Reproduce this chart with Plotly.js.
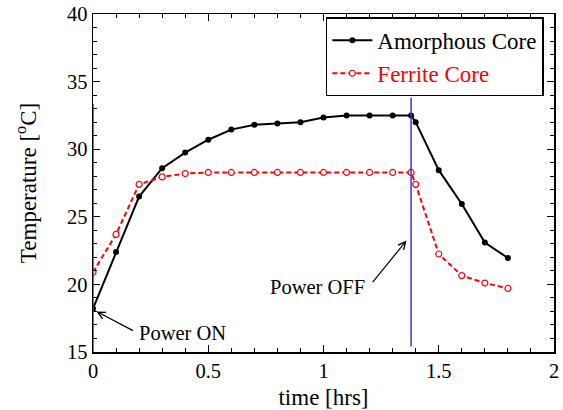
<!DOCTYPE html>
<html>
<head>
<meta charset="utf-8">
<script src="https://cdn.plot.ly/plotly-3.0.1.min.js"></script>
<style>html,body{margin:0;padding:0;background:#fff;}#chart{width:563px;height:410px;}</style>
</head>
<body>
<div id="chart"></div>
<script>
const timeHrs = [0, 0.1, 0.2, 0.3, 0.4, 0.5, 0.6, 0.7, 0.8, 0.9, 1.0, 1.1, 1.2, 1.3, 1.38, 1.4, 1.5, 1.6, 1.7, 1.8];
const amorphousTemp = [18.2, 22.4, 26.5, 28.6, 29.75, 30.7, 31.45, 31.8, 31.9, 32.0, 32.35, 32.5, 32.5, 32.5, 32.5, 32.0, 28.45, 25.95, 23.1, 21.95];
const ferriteTemp = [20.9, 23.7, 27.4, 27.95, 28.2, 28.28, 28.28, 28.28, 28.28, 28.28, 28.28, 28.28, 28.28, 28.28, 28.28, 27.4, 22.25, 20.65, 20.1, 19.7];
const seriesNames = ['Amorphous Core', 'Ferrite Core'];
const powerOnTime = 0;
const powerOffTime = 1.38;

const FONT = 'Liberation Serif, Times New Roman, serif';

const traces = [
  {
    x: timeHrs, y: amorphousTemp, name: '<span style="color:#000000;font-family:Liberation Serif,serif">' + seriesNames[0] + '</span>', type: 'scatter', mode: 'lines+markers',
    line: {color: '#000', width: 2},
    marker: {color: '#000', size: 6, symbol: 'circle'}
  },
  {
    x: timeHrs, y: ferriteTemp, name: '<span style="color:#ff0000;font-family:Liberation Serif,serif">' + seriesNames[1] + '</span>', type: 'scatter', mode: 'lines+markers',
    line: {color: '#ff0000', width: 2, dash: '5px,3px'},
    marker: {color: '#fff', size: 6, symbol: 'circle', line: {color: '#ff0000', width: 1.2}}
  }
];

const axisCommon = {
  showgrid: false, zeroline: false, showline: true, linecolor: '#000', linewidth: 1.5,
  mirror: 'ticks', ticks: 'inside', ticklen: 7, tickwidth: 1.2, tickcolor: '#000',
  tickfont: {family: FONT, size: 20.5, color: '#000'},
};

const layout = {
  width: 563, height: 410,
  margin: {l: 93, r: 9, t: 14, b: 58},
  paper_bgcolor: '#fff', plot_bgcolor: '#fff',
  font: {family: FONT, color: '#000'},
  showlegend: true,
  legend: {
    x: 0.978, xanchor: 'right', y: 0.99, yanchor: 'top',
    bgcolor: '#fff', bordercolor: '#000', borderwidth: 1.5,
    font: {family: FONT, size: 23, color: '#000'},
    itemwidth: 40
  },
  xaxis: Object.assign({}, axisCommon, {
    range: [0, 2], dtick: 0.5, tick0: 0,
    minor: {ticks: 'inside', dtick: 0.1, ticklen: 4, tickwidth: 1, tickcolor: '#000'},
    title: {text: 'time [hrs]', font: {family: FONT, size: 23, color: '#000'}, standoff: 8}
  }),
  yaxis: Object.assign({}, axisCommon, {
    range: [15, 40], dtick: 5, tick0: 15,
    minor: {ticks: 'inside', dtick: 1, ticklen: 4, tickwidth: 1, tickcolor: '#000'},
    title: {text: 'Temperature [<sup>o</sup>C]', font: {family: FONT, size: 23, color: '#000'}, standoff: 24}
  }),
  shapes: [
    {type: 'line', xref: 'x', yref: 'y', x0: powerOnTime, x1: powerOnTime, y0: 15, y1: 33.35, line: {color: '#3535e8', width: 1.5}},
    {type: 'line', xref: 'x', yref: 'y', x0: powerOffTime, x1: powerOffTime, y0: 15.4, y1: 33.8, line: {color: '#3535e8', width: 1.5}}
  ],
  annotations: [
    {x: 0.015, y: 18.0, xref: 'x', yref: 'y', ax: 38, ay: 20, text: '', showarrow: true, arrowhead: 5, arrowsize: 1.2, arrowwidth: 1.2, arrowcolor: '#000', standoff: 0, startstandoff: 0},
    {x: 0, y: 18.0, xref: 'x', yref: 'y', xshift: 137 - 93.3, yshift: -22, xanchor: 'left', yanchor: 'middle', text: 'Power ON', showarrow: false, font: {family: FONT, size: 20.5, color: '#000'}},
    {x: 1.36, y: 23.24, xref: 'x', yref: 'y', ax: -35, ay: 43, text: '', showarrow: true, arrowhead: 5, arrowsize: 1.2, arrowwidth: 1.2, arrowcolor: '#000', standoff: 0, startstandoff: 0},
    {x: 1.36, y: 23.24, xref: 'x', yref: 'y', xshift: 318.7 - 407.3, yshift: -(286.7 - 240.7), xanchor: 'center', yanchor: 'middle', text: 'Power OFF', showarrow: false, font: {family: FONT, size: 20.5, color: '#000'}}
  ]
};

Plotly.newPlot('chart', traces, layout, {staticPlot: true, displayModeBar: false});
</script>
</body>
</html>
